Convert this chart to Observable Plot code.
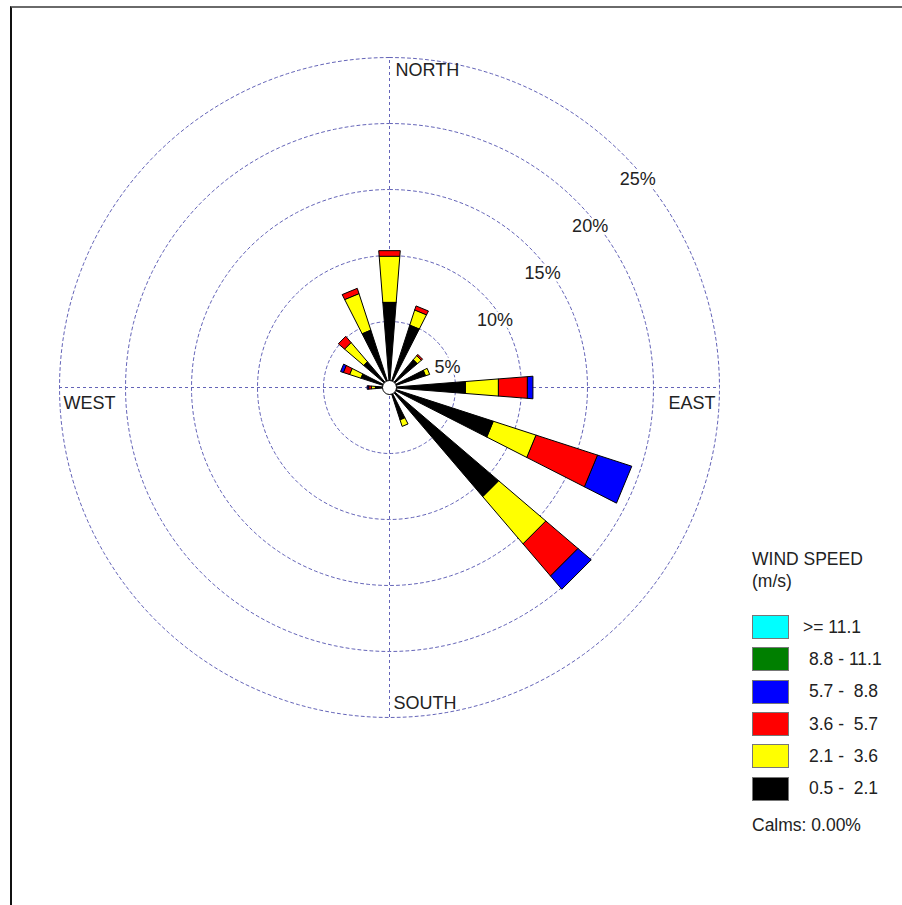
<!DOCTYPE html>
<html>
<head>
<meta charset="utf-8">
<script src="https://cdn.jsdelivr.net/npm/d3@7"></script>
<script src="https://cdn.jsdelivr.net/npm/@observablehq/plot@0.6"></script>
<style>
  html, body { margin: 0; padding: 0; background: #fff; }
  body { width: 902px; height: 905px; position: relative; overflow: hidden;
         font-family: Arial, "Liberation Sans", sans-serif; color: #222; }
  #frame { position: absolute; left: 10px; top: 6px; right: -10px; bottom: -10px;
           border-top: 2px solid #6a6a6a; border-left: 2px solid #111; }
  #chart { position: absolute; left: 0; top: 0; }
  #legend { position: absolute; left: 752px; top: 548px; font-size: 17.5px; }
  #legend .title { line-height: 22px; margin-bottom: 19px; }
  #legend .row { display: flex; align-items: center; height: 32.3px; }
  #legend .swatch { width: 35px; height: 22px; border: 1px solid #777; box-sizing: content-box; }
  #legend .lab { white-space: pre; margin-left: 20px; }
  #legend .calms { margin-top: 10px; }
</style>
</head>
<body>
<div id="frame"></div>
<div id="chart"></div>
<div id="legend"></div>
<script>
// Sixteen compass sectors, clockwise from north
const directions = ["N", "NNE", "NE", "ENE", "E", "ESE", "SE", "SSE",
                    "S", "SSW", "SW", "WSW", "W", "WNW", "NW", "NNW"];

// Wind speed classes (m/s), lowest first, and their colours
const speedClasses = ["0.5 -  2.1", "2.1 -  3.6", "3.6 -  5.7", "5.7 -  8.8", "8.8 - 11.1", ">= 11.1"];
const classColors = ["#000000", "#ffff00", "#ff0000", "#0000ff", "#007f00", "#00ffff"];

// Frequency (%) of each speed class per direction, in the order of `directions`
const freq_05_21 = [6.5, 5.0, 2.8, 2.9, 5.8, 8.3, 10.9, 2.6, 0.5, 0.4, 0.3, 0.4, 1.1, 2.3, 2.6, 4.6];
const freq_21_36 = [3.5, 1.2, 0.4, 0.3, 2.5, 3.4, 4.7, 0.5, 0, 0, 0, 0, 0.3, 0.9, 1.9, 2.9];
const freq_36_57 = [0.4, 0.3, 0.1, 0, 2.2, 4.9, 3.2, 0, 0, 0, 0, 0, 0.2, 0.5, 0.6, 0.4];
const freq_57_88 = [0, 0, 0, 0, 0.4, 2.7, 1.3, 0, 0, 0, 0, 0, 0.1, 0.2, 0, 0];
const freq_88_111 = [0, 0, 0, 0, 0, 0, 0, 0, 0, 0, 0, 0, 0, 0, 0, 0];
const freq_ge_111 = [0, 0, 0, 0, 0, 0, 0, 0, 0, 0, 0, 0, 0, 0, 0, 0];
const classFreqs = [freq_05_21, freq_21_36, freq_36_57, freq_57_88, freq_88_111, freq_ge_111];

// Frequency rings and their labels
const ringValues = [5, 10, 15, 20, 25];
const ringLabels = ["5%", "10%", "15%", "20%", "25%"];
const compassLabels = ["NORTH", "EAST", "SOUTH", "WEST"];
const legendTitle = ["WIND SPEED", "(m/s)"];
const calmsText = "Calms: 0.00%";

// ---- geometry in percent units ----
const sectorWidth = 9;          // degrees of arc per petal
const pxPerPct = 13.2;          // plot scale: pixels per 1 %
const cx = 389, cy = 387;       // centre of the rose in the page
const W = 902, H = 905;
const rad = d => d * Math.PI / 180;
const polar = (r, a) => ({x: r * Math.sin(rad(a)), y: r * Math.cos(rad(a))});

// stacked petal segments as closed polygons
const petals = [];
directions.forEach((dir, i) => {
  const a = i * 22.5, h = sectorWidth / 2;
  let r0 = 0;
  classFreqs.forEach((series, k) => {
    const v = series[i];
    if (!v) return;
    const r1 = r0 + v;
    const id = dir + "-" + k;
    for (const [r, ang] of [[r0, a - h], [r1, a - h], [r1, a + h], [r0, a + h]]) {
      petals.push({id, cls: speedClasses[k], ...polar(r, ang)});
    }
    r0 = r1;
  });
});

// ring circles
const rings = ringValues.flatMap(r =>
  d3.range(0, 361, 2).map(a => ({ring: r, ...polar(r, a)})));

const outer = d3.max(ringValues);

// ring labels run diagonally up to the north-east
const ringText = ringValues.map((r, i) => ({label: ringLabels[i], x: 0.72 * r + 0.8, y: 0.715 * r - 2.07}));

const gridColor = "#6464b8";
const labelFont = 18;

const chart = Plot.plot({
  width: W,
  height: H,
  margin: 0,
  x: {domain: [-cx / pxPerPct, (W - cx) / pxPerPct], axis: null},
  y: {domain: [-(H - cy) / pxPerPct, cy / pxPerPct], axis: null},
  color: {type: "ordinal", domain: speedClasses, range: classColors},
  style: {background: "transparent", fontFamily: "Arial, 'Liberation Sans', sans-serif"},
  marks: [
    Plot.line(rings, {x: "x", y: "y", z: "ring", curve: "linear-closed",
      stroke: gridColor, strokeWidth: 1, strokeDasharray: "3,3"}),
    Plot.ruleX([0], {y1: -outer, y2: outer, stroke: gridColor, strokeDasharray: "3,3"}),
    Plot.ruleY([0], {x1: -outer, x2: outer, stroke: gridColor, strokeDasharray: "3,3"}),
    Plot.text(ringText, {x: "x", y: "y", text: "label", fontSize: labelFont, fill: "#222",
      stroke: "white", strokeWidth: 5}),
    Plot.line(petals, {x: "x", y: "y", z: "id", fill: "cls", curve: "linear-closed",
      stroke: "#000", strokeWidth: 1, strokeLinejoin: "miter"}),
    Plot.dot([{x: 0, y: 0}], {x: "x", y: "y", r: 7, fill: "white", stroke: "#000", strokeWidth: 1}),
    Plot.text([compassLabels[0]], {x: 0, y: outer, text: d => d, textAnchor: "start", dx: 6, dy: 13, fontSize: labelFont, fill: "#222"}),
    Plot.text([compassLabels[2]], {x: 0, y: -outer, text: d => d, textAnchor: "start", dx: 4, dy: -14, fontSize: labelFont, fill: "#222"}),
    Plot.text([compassLabels[1]], {x: outer, y: 0, text: d => d, textAnchor: "end", dx: -4, dy: 16, fontSize: labelFont, fill: "#222"}),
    Plot.text([compassLabels[3]], {x: -outer, y: 0, text: d => d, textAnchor: "start", dx: 4, dy: 16, fontSize: labelFont, fill: "#222"})
  ]
});
document.getElementById("chart").append(chart);

// legend, highest speed class first
const legend = document.getElementById("legend");
legend.innerHTML = `<div class="title">${legendTitle.join("<br>")}</div>`;
speedClasses.map((s, i) => [s, classColors[i]]).reverse().forEach(([label, color]) => {
  const row = document.createElement("div");
  row.className = "row";
  const sw = document.createElement("div");
  sw.className = "swatch";
  sw.style.background = color;
  const lab = document.createElement("div");
  lab.className = "lab";
  lab.textContent = label;
  if (label.startsWith(">=")) lab.style.marginLeft = "14px";
  row.append(sw, lab);
  legend.append(row);
});
const calms = document.createElement("div");
calms.className = "calms";
calms.textContent = calmsText;
legend.append(calms);
</script>
</body>
</html>
